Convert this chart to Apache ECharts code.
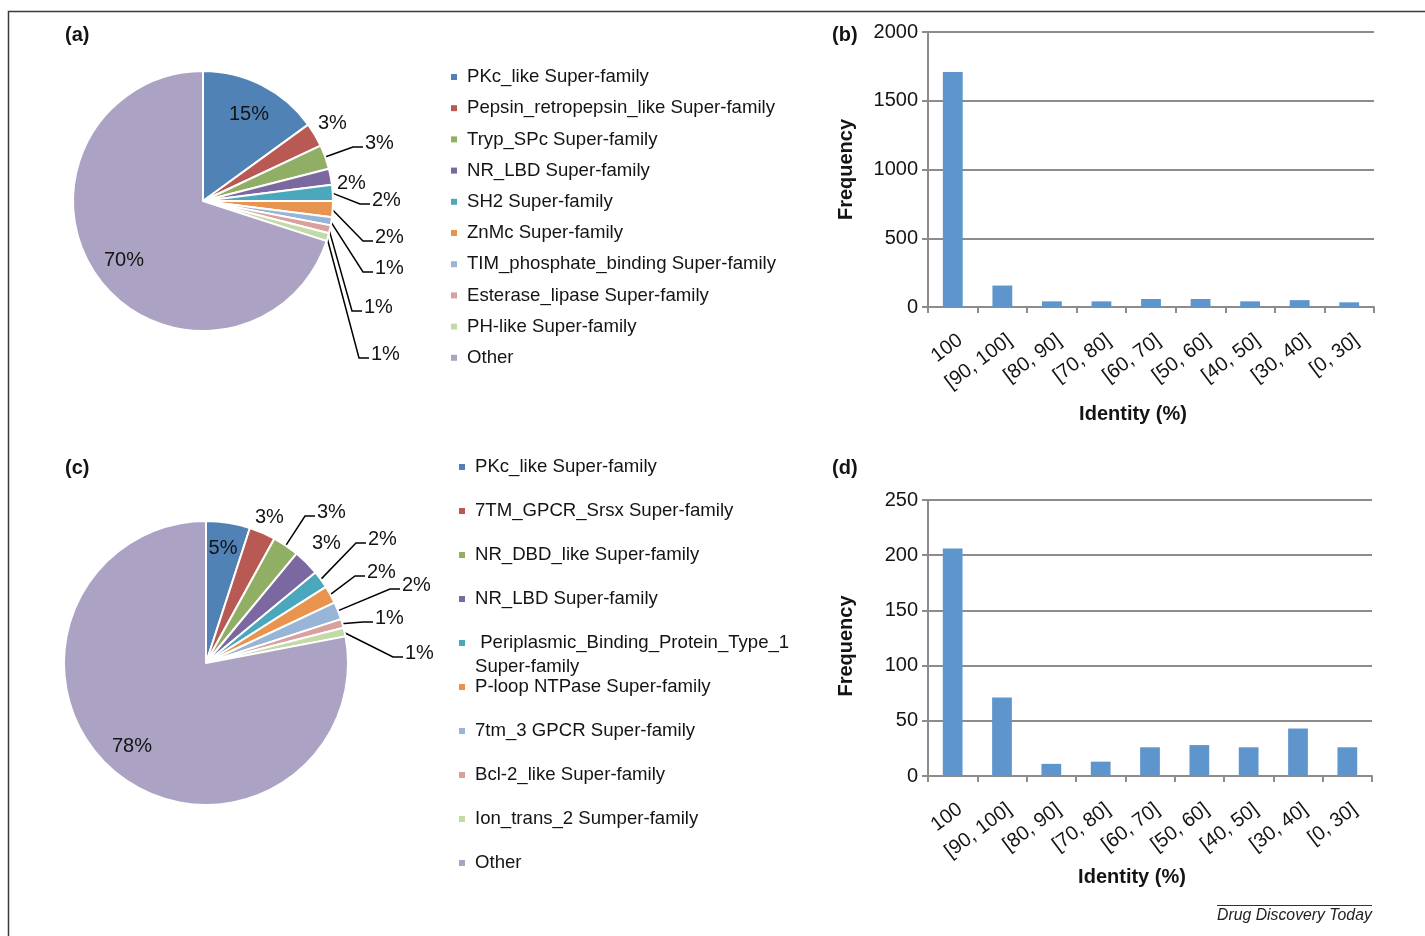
<!DOCTYPE html>
<html>
<head>
<meta charset="utf-8">
<script src="https://cdn.jsdelivr.net/npm/echarts@6/dist/echarts.min.js"></script>
<style>
  html, body { margin: 0; padding: 0; background: #fff; }
  #chart { width: 1425px; height: 936px; }
</style>
</head>
<body>
<div id="chart"></div>
<script>
// ---- data -------------------------------------------------------------
// (a) super-family shares, percent
const familiesA = [
  'PKc_like Super-family', 'Pepsin_retropepsin_like Super-family', 'Tryp_SPc Super-family',
  'NR_LBD Super-family', 'SH2 Super-family', 'ZnMc Super-family',
  'TIM_phosphate_binding Super-family', 'Esterase_lipase Super-family', 'PH-like Super-family', 'Other'
];
const sharesA = [15, 3, 3, 2, 2, 2, 1, 1, 1, 70];

// (c) super-family shares, percent
const familiesC = [
  'PKc_like Super-family', '7TM_GPCR_Srsx Super-family', 'NR_DBD_like Super-family',
  'NR_LBD Super-family', 'Periplasmic_Binding_Protein_Type_1 Super-family', 'P-loop NTPase Super-family',
  '7tm_3 GPCR Super-family', 'Bcl-2_like Super-family', 'Ion_trans_2 Sumper-family', 'Other'
];
const sharesC = [5, 3, 3, 3, 2, 2, 2, 1, 1, 78];

// (b) and (d) identity histograms
const identityBins = ['100', '[90, 100]', '[80, 90]', '[70, 80]', '[60, 70]', '[50, 60]', '[40, 50]', '[30, 40]', '[0, 30]'];
const freqB = [1710, 156, 41, 41, 58, 58, 41, 50, 34];
const freqD = [206, 71, 11, 13, 26, 28, 26, 43, 26];
const axisB = { min: 0, max: 2000, interval: 500 };
const axisD = { min: 0, max: 250, interval: 50 };

// ---- styling ----------------------------------------------------------
const FONT = '"Liberation Sans", Arial, Helvetica, sans-serif';
const INK = '#141414';
const GREY = '#8c8c8c';
const palette = ['#5082b6', '#b85a53', '#91ae65', '#7b68a0', '#4aa7bc', '#e8944e', '#98b5d8', '#d9a19e', '#c3d9a6', '#aba2c4'];
const BAR = '#5d95cc';

// label anchor for every slice (left edge of text for outside labels)
const spotsA = [
  { x: 249, y: 114, inside: true }, { x: 318, y: 123 }, { x: 365, y: 143, line: true },
  { x: 337, y: 183 }, { x: 372, y: 200, line: true }, { x: 375, y: 237, line: true },
  { x: 375, y: 268, line: true }, { x: 364, y: 307, line: true }, { x: 371, y: 354, line: true },
  { x: 124, y: 260, inside: true }
];
const spotsC = [
  { x: 223, y: 548, inside: true }, { x: 255, y: 517 }, { x: 317, y: 512, line: true },
  { x: 312, y: 543 }, { x: 368, y: 539, line: true }, { x: 367, y: 572, line: true },
  { x: 402, y: 585, line: true }, { x: 375, y: 618, line: true }, { x: 405, y: 653, line: true },
  { x: 132, y: 746, inside: true }
];

function pieSeries(names, values, spots, center, radius) {
  const total = values.reduce((a, b) => a + b, 0);
  const starts = [];
  values.reduce((acc, v) => { starts.push(acc); return acc + v; }, 0);
  return {
    type: 'pie',
    center: center,
    radius: radius,
    startAngle: 90,
    clockwise: true,
    avoidLabelOverlap: false,
    animation: false,
    emphasis: { disabled: true },
    itemStyle: { borderColor: '#fff', borderWidth: 2 },
    label: {
      show: true, position: 'outside', formatter: '{c}%',
      fontFamily: FONT, fontSize: 20, color: INK
    },
    labelLine: { show: true, smooth: false, lineStyle: { color: '#000', width: 1.5 } },
    labelLayout: function (p) {
      const s = spots[p.dataIndex];
      const out = { x: s.x, y: s.y, align: s.inside ? 'center' : 'left', verticalAlign: 'middle' };
      if (s.line) {
        const mid = (starts[p.dataIndex] + values[p.dataIndex] / 2) / total * Math.PI * 2;
        const r = radius - 1;
        const p0 = [center[0] + r * Math.sin(mid), center[1] - r * Math.cos(mid)];
        out.labelLinePoints = [p0, [s.x - 12, s.y + 4], [s.x - 2, s.y + 4]];
      }
      return out;
    },
    data: names.map((n, i) => ({
      name: n, value: values[i],
      itemStyle: { color: palette[i] },
      labelLine: { show: !!spots[i].line }
    }))
  };
}

function valueAxis(grid, range, namePad) {
  return {
    gridIndex: grid, type: 'value', min: range.min, max: range.max, interval: range.interval,
    name: 'Frequency', nameLocation: 'middle', nameGap: 72,
    nameTextStyle: { fontFamily: FONT, fontSize: 20, fontWeight: 'bold', color: INK, padding: namePad },
    axisLine: { show: true, lineStyle: { color: GREY, width: 2 } },
    axisTick: { show: true, length: 6, lineStyle: { color: GREY, width: 2 } },
    splitLine: { show: true, lineStyle: { color: GREY, width: 2 } },
    axisLabel: { fontFamily: FONT, fontSize: 20, color: INK, margin: 10, formatter: v => String(v) }
  };
}

function categoryAxis(grid, gap) {
  return {
    gridIndex: grid, type: 'category', data: identityBins,
    name: 'Identity (%)', nameLocation: 'middle', nameGap: gap,
    nameTextStyle: { fontFamily: FONT, fontSize: 20, fontWeight: 'bold', color: INK, padding: [0, 36, 0, 0] },
    axisLine: { lineStyle: { color: GREY, width: 2 } },
    axisTick: { show: true, length: 6, lineStyle: { color: GREY, width: 2 } },
    axisLabel: {
      fontFamily: FONT, fontSize: 20, color: INK, rotate: 37, margin: 8, interval: 0,
      verticalAlign: 'top', padding: [13, 8, 0, 0]
    }
  };
}

// legends: (a) one column, (c) one legend per row so the wrapped entry keeps the spacing
const legendBase = {
  orient: 'vertical', padding: 0, itemWidth: 6, itemHeight: 6, icon: 'rect',
  selectedMode: false, itemStyle: { borderWidth: 0 }
};
const legendText = { fontFamily: FONT, fontSize: 18.6, lineHeight: 20, color: INK, padding: [0, 0, 0, 5] };
const legends = [Object.assign({}, legendBase, {
  left: 451, top: 67, itemGap: 11.2, data: familiesA, textStyle: legendText
})];
familiesC.forEach((n, i) => {
  const cy = 467 + 44 * i;
  const wrapped = n.indexOf('Periplasmic') === 0;
  legends.push(Object.assign({}, legendBase, {
    left: 459, top: wrapped ? cy - 36 : cy - 10, data: [n],
    // wrapped entry: blank first line keeps the marker level with the first text line
    formatter: wrapped ? (name => '\n ' + name.replace(' Super-family', '') + '\nSuper-family') : '{name}',
    textStyle: wrapped ? Object.assign({}, legendText, { lineHeight: 24 }) : legendText
  }));
});

const panelTitle = (t, left, top) => ({
  text: t, left: left, top: top, padding: 0,
  textStyle: { fontFamily: FONT, fontSize: 20, fontWeight: 'bold', color: INK }
});

const option = {
  backgroundColor: '#fff',
  animation: false,
  title: [
    panelTitle('(a)', 65, 25), panelTitle('(b)', 832, 25),
    panelTitle('(c)', 65, 458), panelTitle('(d)', 832, 458),
    {
      text: 'Drug Discovery Today', left: 1217, top: 908, padding: 0,
      textStyle: { fontFamily: FONT, fontSize: 15.8, fontStyle: 'italic', fontWeight: 'normal', color: '#222' }
    }
  ],
  legend: legends,
  grid: [
    { left: 928, right: 51, top: 32, height: 275 },
    { left: 928, right: 53, top: 500, height: 276 }
  ],
  xAxis: [categoryAxis(0, 97), categoryAxis(1, 91)],
  yAxis: [valueAxis(0, axisB, [0, 0, 0, 0]), valueAxis(1, axisD, [0, 16, 0, 0])],
  series: [
    pieSeries(familiesA, sharesA, spotsA, [203, 201], 130),
    pieSeries(familiesC, sharesC, spotsC, [206, 663], 142),
    {
      type: 'bar', xAxisIndex: 0, yAxisIndex: 0, data: freqB, barWidth: '40%',
      itemStyle: { color: BAR }, emphasis: { disabled: true }
    },
    {
      type: 'bar', xAxisIndex: 1, yAxisIndex: 1, data: freqD, barWidth: '40%',
      itemStyle: { color: BAR }, emphasis: { disabled: true }
    }
  ],
  graphic: [
    // figure frame (top and left edges)
    { type: 'polyline', silent: true, shape: { points: [[8.5, 936], [8.5, 11.5], [1425, 11.5]] },
      style: { stroke: '#3a3a3a', lineWidth: 1.5, fill: null } },
    // rule above the journal credit
    { type: 'line', silent: true, shape: { x1: 1217, y1: 905.5, x2: 1372, y2: 905.5 },
      style: { stroke: '#333', lineWidth: 1 } }
  ]
};

const chart = echarts.init(document.getElementById('chart'), null, { renderer: 'canvas' });
chart.setOption(option);
</script>
</body>
</html>
